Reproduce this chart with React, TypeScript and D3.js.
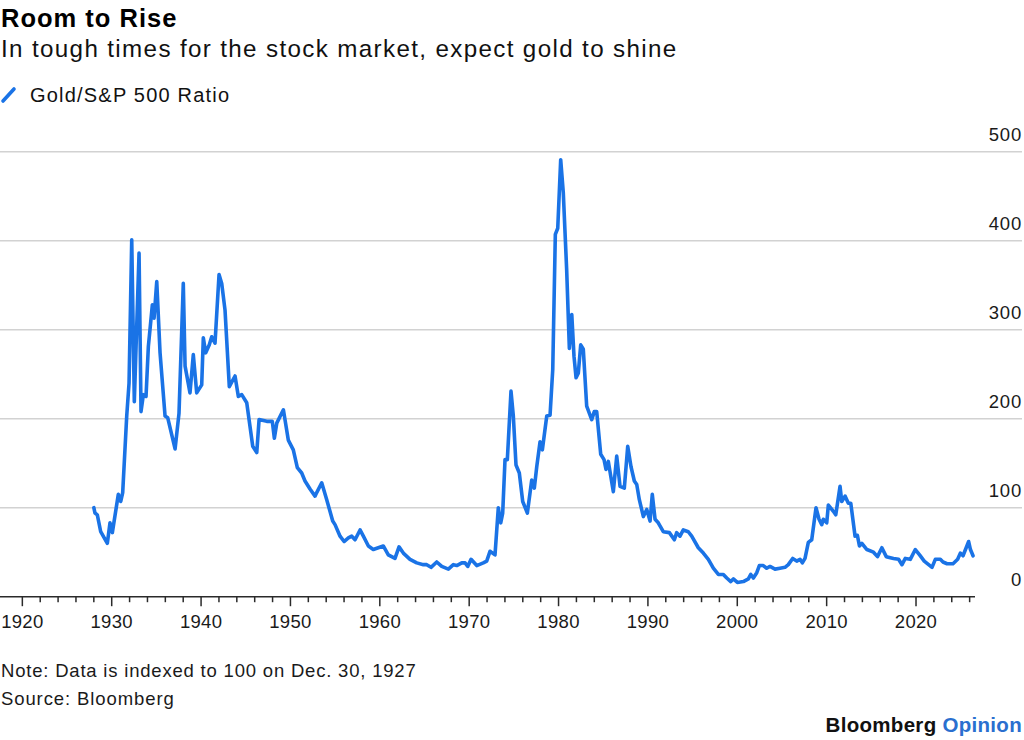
import React from 'react';
import * as d3 from 'd3';

// ---- Data ----
const years: number[] = [
  1928.00, 1928.13, 1928.39, 1928.77, 1929.51, 1929.81, 1930.07, 1930.74, 1931.01, 1931.23,
  1931.68, 1931.94, 1932.24, 1932.53, 1933.06, 1933.28, 1933.54, 1933.84, 1934.10, 1934.55,
  1934.74, 1935.04, 1935.41, 1935.97, 1936.27, 1937.09, 1937.53, 1938.01, 1938.21, 1938.76,
  1939.13, 1939.51, 1940.07, 1940.25, 1940.52, 1940.92, 1941.19, 1941.56, 1942.01, 1942.31,
  1942.68, 1943.16, 1943.80, 1944.17, 1944.55, 1945.11, 1945.78, 1946.23, 1946.49, 1947.35,
  1947.97, 1948.20, 1948.47, 1949.21, 1949.76, 1950.32, 1950.77, 1951.26, 1951.63, 1952.19,
  1952.75, 1952.94, 1953.50, 1954.06, 1954.73, 1954.99, 1955.55, 1956.00, 1956.48, 1956.86,
  1957.23, 1957.79, 1958.16, 1958.72, 1959.27, 1959.83, 1960.39, 1960.95, 1961.70, 1962.15,
  1962.63, 1963.38, 1964.13, 1964.87, 1965.25, 1965.73, 1966.37, 1966.93, 1967.67, 1968.23,
  1968.61, 1969.17, 1969.54, 1969.84, 1970.21, 1970.85, 1971.58, 1971.96, 1972.33, 1972.89,
  1973.26, 1973.53, 1973.75, 1974.01, 1974.27, 1974.68, 1974.94, 1975.24, 1975.61, 1975.99,
  1976.51, 1977.00, 1977.29, 1977.56, 1977.93, 1978.19, 1978.68, 1979.05, 1979.35, 1979.64,
  1979.91, 1980.24, 1980.53, 1980.91, 1981.21, 1981.48, 1981.73, 1981.96, 1982.21, 1982.48,
  1982.77, 1983.15, 1983.71, 1984.00, 1984.27, 1984.72, 1985.09, 1985.31, 1985.57, 1986.13,
  1986.51, 1986.88, 1987.36, 1987.74, 1988.11, 1988.48, 1988.75, 1989.04, 1989.49, 1989.87,
  1990.24, 1990.49, 1990.80, 1991.16, 1991.72, 1992.40, 1992.96, 1993.22, 1993.59, 1993.96,
  1994.52, 1994.90, 1995.64, 1996.20, 1996.76, 1997.32, 1997.88, 1998.44, 1998.82, 1999.27,
  1999.56, 2000.01, 2000.68, 2001.24, 2001.51, 2001.80, 2002.18, 2002.47, 2002.91, 2003.29,
  2003.66, 2004.22, 2004.78, 2005.34, 2005.71, 2006.20, 2006.65, 2007.02, 2007.28, 2007.58,
  2007.95, 2008.33, 2008.81, 2009.15, 2009.45, 2009.63, 2010.01, 2010.19, 2010.75, 2011.02,
  2011.50, 2011.69, 2012.06, 2012.43, 2012.70, 2013.18, 2013.44, 2013.67, 2013.94, 2014.50,
  2015.24, 2015.69, 2016.18, 2016.67, 2017.48, 2018.05, 2018.43, 2018.80, 2019.36, 2019.92,
  2020.40, 2020.92, 2021.41, 2021.79, 2022.16, 2022.72, 2023.02, 2023.47, 2024.14, 2024.66,
  2024.96, 2025.26, 2025.89, 2026.09, 2026.38,
];

const goldSpxRatio: number[] = [
  100, 94, 92, 73, 60, 83, 72, 115, 107, 117,
  203, 240, 401, 219, 386, 208, 227, 225, 281, 328,
  313, 354, 274, 203, 201, 166, 206, 352, 259, 229,
  272, 229, 238, 291, 274, 283, 292, 285, 362, 352,
  322, 236, 248, 225, 227, 218, 169, 162, 199, 197,
  197, 178, 195, 210, 176, 165, 145, 139, 130, 121,
  113, 117, 128, 109, 85, 81, 68, 62, 66, 68,
  64, 75, 68, 57, 53, 55, 57, 47, 43, 56,
  49, 42, 38, 36, 36, 33, 39, 34, 31, 36,
  35, 38, 38, 34, 42, 35, 38, 40, 51, 47,
  100, 83, 94, 154, 154, 231, 203, 148, 139, 107,
  94, 131, 122, 146, 174, 165, 203, 204, 255, 407,
  414, 491, 454, 367, 279, 317, 270, 246, 251, 283,
  278, 214, 199, 208, 208, 160, 154, 143, 152, 118,
  158, 124, 122, 169, 146, 130, 126, 109, 90, 98,
  85, 115, 87, 83, 73, 72, 64, 72, 68, 75,
  73, 68, 55, 49, 42, 32, 25, 25, 21, 17,
  20, 16, 17, 20, 25, 21, 27, 35, 35, 32,
  34, 31, 32, 33, 36, 43, 40, 42, 38, 43,
  61, 64, 100, 87, 81, 87, 83, 103, 96, 92,
  124, 107, 113, 105, 105, 68, 69, 57, 60, 53,
  50, 45, 55, 45, 43, 42, 36, 43, 42, 53,
  47, 40, 36, 33, 42, 42, 39, 37, 37, 42,
  49, 46, 62, 53, 46,
];

const yTickValues: number[] = [0, 100, 200, 300, 400, 500];
const xLabelYears: number[] = [1920, 1930, 1940, 1950, 1960, 1970, 1980, 1990, 2000, 2010, 2020];
const xMinorYears: number[] = [
  1922, 1924, 1926, 1928, 1932, 1934, 1936, 1938, 1942, 1944, 1946, 1948,
  1952, 1954, 1956, 1958, 1962, 1964, 1966, 1968, 1972, 1974, 1976, 1978,
  1982, 1984, 1986, 1988, 1992, 1994, 1996, 1998, 2002, 2004, 2006, 2008,
  2012, 2014, 2016, 2018, 2022, 2024, 2026,
];

const titleText = 'Room to Rise';
const subtitleText = 'In tough times for the stock market, expect gold to shine';
const legendLabel = 'Gold/S&P 500 Ratio';
const noteText = 'Note: Data is indexed to 100 on Dec. 30, 1927';
const sourceText = 'Source: Bloomberg';

// ---- Layout ----
const W = 1024;
const H = 740;
const FONT = '"Liberation Sans", Arial, Helvetica, sans-serif';
const BLUE = '#1a73e6';

export default function App() {
  const x = d3.scaleLinear().domain([1917.5, 2026.6]).range([0, 975]);
  const y = d3.scaleLinear().domain([0, 500]).range([596.7, 151.7]);

  const points: [number, number][] = years.map((yr, i) => [yr, goldSpxRatio[i]]);
  const lineGen = d3
    .line<[number, number]>()
    .x((d) => x(d[0]))
    .y((d) => y(d[1]));
  const pathD = lineGen(points) || '';

  const y0 = y(0);

  return (
    <svg
      width={W}
      height={H}
      viewBox={`0 0 ${W} ${H}`}
      style={{ position: 'absolute', left: 0, top: 0, background: '#fff', fontFamily: FONT }}
    >
      <rect x={0} y={0} width={W} height={H} fill="#fff" />

      {/* Header */}
      <text x={1} y={26.5} fontSize={25.5} fontWeight={700} fill="#000" style={{ letterSpacing: '1px' }}>
        {titleText}
      </text>
      <text x={1} y={57} fontSize={24.2} fill="#111" style={{ letterSpacing: '1.35px' }}>
        {subtitleText}
      </text>

      {/* Legend */}
      <line x1={3} y1={101} x2={14} y2={89} stroke={BLUE} strokeWidth={3.6} strokeLinecap="round" />
      <text x={30} y={102} fontSize={20} fill="#111" style={{ letterSpacing: '1.2px' }}>
        {legendLabel}
      </text>

      {/* Gridlines */}
      {yTickValues
        .filter((v) => v > 0)
        .map((v) => (
          <line key={`g${v}`} x1={0} x2={1022} y1={y(v)} y2={y(v)} stroke="#d2d2d2" strokeWidth={1.4} />
        ))}

      {/* Y labels */}
      {yTickValues.map((v) => (
        <text key={`yl${v}`} x={1022} y={y(v) - 10.5} fontSize={18.5} textAnchor="end" fill="#1a1a1a" style={{ letterSpacing: '0.8px' }}>
          {v}
        </text>
      ))}

      {/* Data line */}
      <path d={pathD} fill="none" stroke={BLUE} strokeWidth={3.6} strokeLinejoin="round" strokeLinecap="round" />

      {/* X axis */}
      <line x1={0} x2={975} y1={y0} y2={y0} stroke="#2a2a2a" strokeWidth={1.5} />
      {xLabelYears.map((yr) => (
        <g key={`xt${yr}`}>
          <line x1={x(yr)} x2={x(yr)} y1={y0} y2={y0 + 9.5} stroke="#2a2a2a" strokeWidth={1.5} />
          <text x={x(yr)} y={627.5} fontSize={18.5} textAnchor="middle" fill="#1a1a1a" style={{ letterSpacing: '0.3px' }}>
            {yr}
          </text>
        </g>
      ))}
      {xMinorYears.map((yr) => (
        <line key={`xm${yr}`} x1={x(yr)} x2={x(yr)} y1={y0} y2={y0 + 5.5} stroke="#2a2a2a" strokeWidth={1.5} />
      ))}

      {/* Footer */}
      <text x={1} y={676.5} fontSize={18.5} fill="#1a1a1a" style={{ letterSpacing: '0.8px' }}>
        {noteText}
      </text>
      <text x={1} y={704.5} fontSize={18.5} fill="#1a1a1a" style={{ letterSpacing: '0.9px' }}>
        {sourceText}
      </text>
      <text x={1022} y={732} fontSize={20.5} fontWeight={700} textAnchor="end" style={{ letterSpacing: '0.3px' }}>
        <tspan fill="#111">Bloomberg </tspan>
        <tspan fill="#2a6fcf">Opinion</tspan>
      </text>
    </svg>
  );
}
